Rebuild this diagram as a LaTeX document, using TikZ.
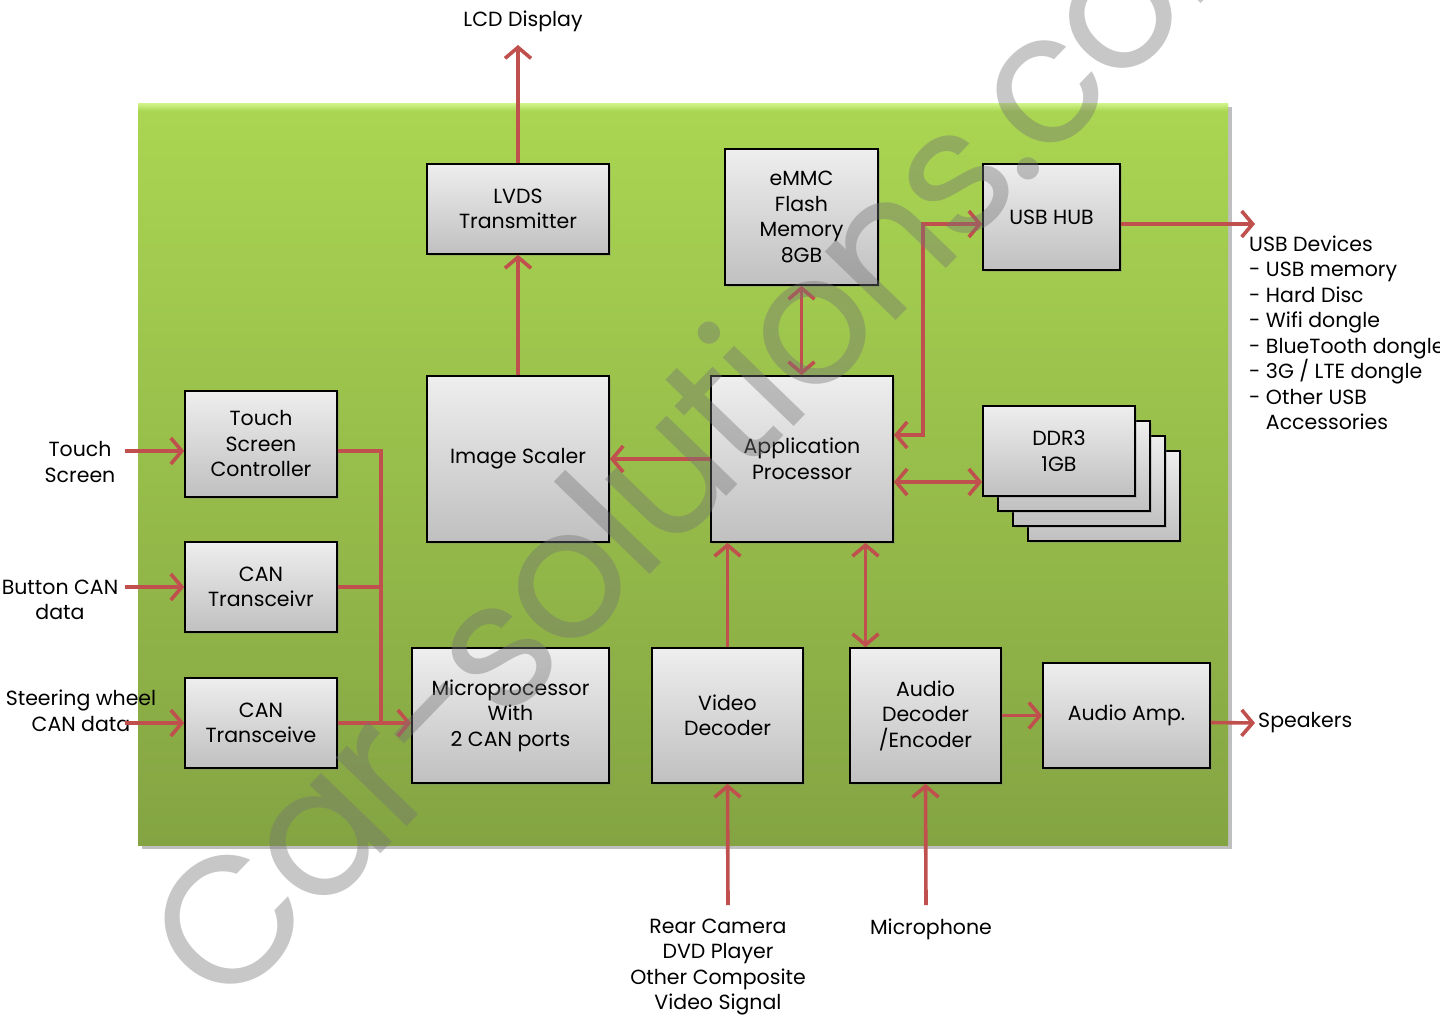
\documentclass[tikz,border=0pt]{standalone}
\usepackage{fontspec}
\setmainfont{Poppins}
\usetikzlibrary{arrows.meta,shadows}

\definecolor{panelTop}{HTML}{AAD652}
\definecolor{panelBot}{HTML}{84A443}
\definecolor{panelHi}{HTML}{D2F58C}
\definecolor{boxTop}{HTML}{EEEEEE}
\definecolor{boxBot}{HTML}{C0C0C0}
\definecolor{sigRed}{HTML}{C0504D}
\newcommand{\blkfont}{\fontsize{20.5}{25.5}\selectfont}

\tikzset{
  blk/.style={draw=black, line width=1.6pt, top color=boxTop, bottom color=boxBot,
    align=center, inner sep=2pt, font=\blkfont,
    drop shadow={shadow xshift=2pt, shadow yshift=-2pt, opacity=0.3}},
  lbl/.style={align=center, inner sep=0pt, font=\blkfont},
  sig/.style={draw=sigRed, line width=3.6pt},
}

\begin{document}
\begin{tikzpicture}[>={Straight Barb[length=11pt,width=26pt]},x=1pt,y=-1pt]
	\useasboundingbox (0,0) rectangle (1440,1017);
	% board
	\fill[black,opacity=0.25] (142,107) rectangle (1232,849);
	\shade[top color=panelTop, bottom color=panelBot] (138,103) rectangle (1228,845);
	\shade[top color=panelHi, bottom color=panelTop] (138,103) rectangle (1228,111);
	% blocks
	\node[blk, minimum width=182pt, minimum height=90pt] (lvds) at (518,209) {LVDS\\Transmitter};
	\node[blk, minimum width=153pt, minimum height=136pt] (emmc) at (801.5,217) {eMMC\\Flash\\Memory\\8GB};
	\node[blk, minimum width=137pt, minimum height=106pt] (usb) at (1051.5,217) {USB HUB};
	\node[blk, minimum width=152pt, minimum height=106pt] (tsc) at (261,444) {Touch\\Screen\\Controller};
	\node[blk, minimum width=182pt, minimum height=166pt] (scaler) at (518,459) {Image Scaler};
	\node[blk, minimum width=182pt, minimum height=166pt] (app) at (802,459) {Application\\Processor};
	\foreach \k in {3,2,1}
		\node[blk, minimum width=152pt, minimum height=90pt] (ddr\k) at ({1059+15*\k},{451+15*\k}) {};
	\node[blk, minimum width=152pt, minimum height=90pt] (ddr) at (1059,451) {DDR3\\1GB};
	\node[blk, minimum width=152pt, minimum height=90pt] (cana) at (261,587) {CAN\\Transceivr};
	\node[blk, minimum width=152pt, minimum height=90pt] (canb) at (261,723) {CAN\\Transceive};
	\node[blk, minimum width=197pt, minimum height=135pt] (mcu) at (510.5,715.5) {Microprocessor\\With\\2 CAN ports};
	\node[blk, minimum width=151pt, minimum height=135pt] (vdec) at (727.5,715.5) {Video\\Decoder};
	\node[blk, minimum width=151pt, minimum height=135pt] (adec) at (925.5,715.5) {Audio\\Decoder\\/Encoder};
	\node[blk, minimum width=167pt, minimum height=105pt] (amp) at (1126.5,715.5) {Audio Amp.};
	% outside
	\node[lbl] (lcd) at (523,21) {LCD Display};
	\node[lbl, anchor=west, align=left] (usbdev) at (1249,333) {USB Devices\\- USB memory\\- Hard Disc\\- Wifi dongle\\- BlueTooth dongle\\- 3G / LTE dongle\\- Other USB\\\phantom{- }Accessories};
	\node[lbl] (touch) at (80,462) {Touch\\Screen};
	\node[lbl] (button) at (60,600) {Button CAN\\data};
	\node[lbl] (steer) at (81,711) {Steering wheel\\CAN data};
	\node[lbl, anchor=west] (spk) at (1258,723) {Speakers};
	\node[lbl] (cam) at (718,967) {Rear Camera\\DVD Player\\Other Composite\\Video Signal};
	\node[lbl] (mic) at (931,929) {Microphone};
	\coordinate (lcdin) at (518,45);
	\coordinate (usbout) at (1255,224);
	\coordinate (spkout) at (1255,723);
	\coordinate (camout) at (728,905);
	\coordinate (micout) at (926,905);
	\coordinate (touchout) at (125,451);
	\coordinate (buttonout) at (125,587);
	\coordinate (steerout) at (125,723);
	\coordinate (bus) at (381,723);
	% signals
	\draw[sig,->] (lvds.north) -- (lcdin);
	\draw[sig,->] (scaler.north) -- (lvds.south);
	\draw[sig,->] (app.west) -- (scaler.east);
	\draw[sig,<->] (emmc.south) -- (emmc.south |- app.north);
	\draw[sig,<->] ([yshift=24pt]app.east) -- ++(29,0) |- ([yshift=-7pt]usb.west);
	\draw[sig,<->] ([yshift=-23pt]app.east) -- ([yshift=-23pt]app.east -| ddr.west);
	\draw[sig,->] ([yshift=-7pt]usb.east) -- (usbout);
	\draw[sig,->] (touchout) -- (touchout -| tsc.west);
	\draw[sig,->] (buttonout) -- (cana.west);
	\draw[sig,->] (steerout) -- (canb.west);
	\draw[sig] (touchout -| tsc.east) -| (bus);
	\draw[sig] (cana.east) -- (cana.east -| bus);
	\draw[sig,->] (canb.east) -- (canb.east -| mcu.west);
	\draw[sig,->] (vdec.north) -- (vdec.north |- app.south);
	\draw[sig,<->] ([xshift=-60pt]adec.north) -- ([xshift=-60pt]adec.north |- app.south);
	\draw[sig,->] (adec.east) -- (amp.west);
	\draw[sig,->] ([yshift=-7pt]amp.east) -- (spkout);
	\draw[sig,->] (camout) -- (vdec.south);
	\draw[sig,->] (micout) -- (adec.south);
	% watermark
	\begin{scope}
	\clip (0,0) rectangle (1440,1017);
	\node[rotate=46, anchor=base west, inner sep=0pt, text=black!55, opacity=0.4,
		font=\fontsize{180}{180}\selectfont\addfontfeature{LetterSpace=-3.5}] (mark) at (225,1015) {Car-solutions.com};
	\end{scope}
\end{tikzpicture}
\end{document}
